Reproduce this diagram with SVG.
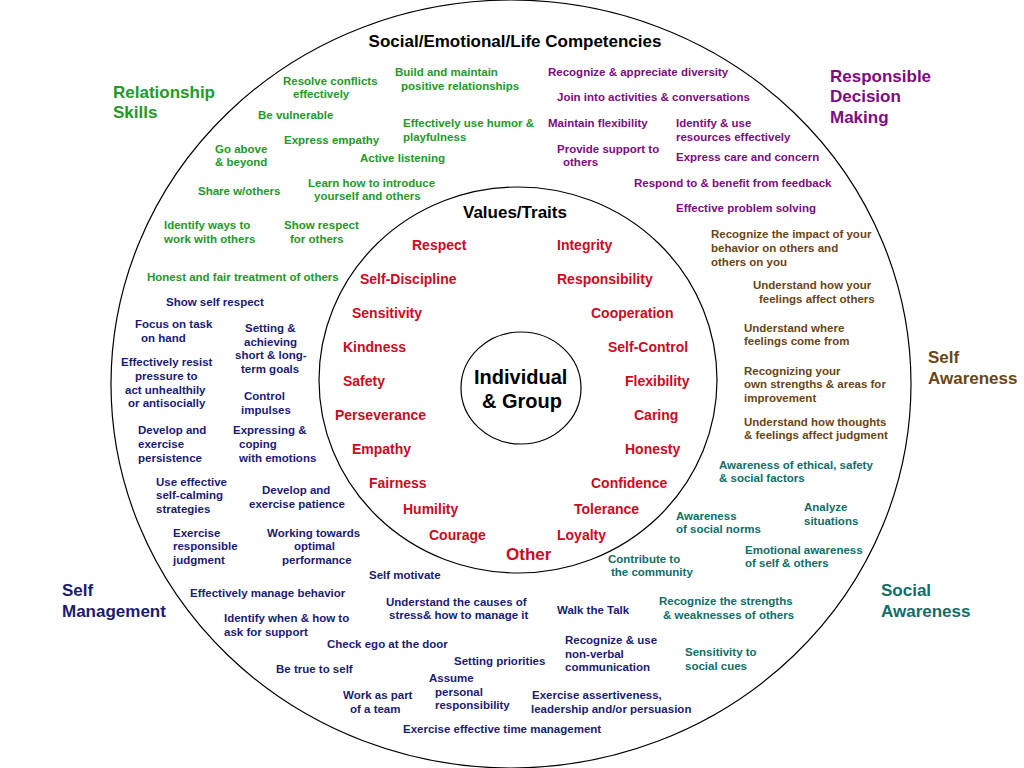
<svg xmlns="http://www.w3.org/2000/svg" width="1024" height="768" viewBox="0 0 1024 768">
<style>
text{font-family:"Liberation Sans",Arial,sans-serif;font-weight:bold}
.s{font-size:11.5px}
.m{font-size:14px}
.h{font-size:17px}
.g{fill:#23992a}
.p{fill:#800a80}
.b{fill:#6b4514}
.t{fill:#0e6e68}
.n{fill:#1b1b72}
.r{fill:#cc0a1e}
.k{fill:#000}
.ring{fill:none;stroke:#000;stroke-width:1.2}
</style>
<rect width="1024" height="768" fill="#fff"/>
<g id="rings">
<ellipse class="ring" cx="511" cy="384" rx="400" ry="384"/>
<ellipse class="ring" cx="518" cy="380" rx="199" ry="193"/>
<ellipse class="ring" cx="521" cy="388" rx="60" ry="56"/>
</g>
<g id="titles" class="k">
<text class="h" x="515" y="47" text-anchor="middle">Social/Emotional/Life Competencies</text>
<text class="h" x="463" y="218">Values/Traits</text>
<text x="474" y="384" style="font-size:20px">Individual</text>
<text x="482" y="408" style="font-size:20px">&amp; Group</text>
</g>
<g id="relationship-skills" class="g">
<text class="h" x="113" y="98">Relationship</text>
<text class="h" x="113" y="118">Skills</text>
<text class="s" x="283" y="84.5">Resolve conflicts</text>
<text class="s" x="293" y="98">effectively</text>
<text class="s" x="395" y="75.5">Build and maintain</text>
<text class="s" x="401" y="89.5">positive relationships</text>
<text class="s" x="258" y="118.5">Be vulnerable</text>
<text class="s" x="403" y="127">Effectively use humor &amp;</text>
<text class="s" x="403" y="140.5">playfulness</text>
<text class="s" x="215" y="152.5">Go above</text>
<text class="s" x="215" y="166">&amp; beyond</text>
<text class="s" x="284" y="144">Express empathy</text>
<text class="s" x="360" y="162">Active listening</text>
<text class="s" x="198" y="195">Share w/others</text>
<text class="s" x="308" y="187">Learn how to introduce</text>
<text class="s" x="314" y="200">yourself and others</text>
<text class="s" x="164" y="229">Identify ways to</text>
<text class="s" x="164" y="243">work with others</text>
<text class="s" x="284" y="229">Show respect</text>
<text class="s" x="290" y="243">for others</text>
<text class="s" x="147" y="280.5">Honest and fair treatment of others</text>
</g>
<g id="responsible-decision-making" class="p">
<text class="h" x="830" y="81.5">Responsible</text>
<text class="h" x="830" y="102">Decision</text>
<text class="h" x="830" y="122.5">Making</text>
<text class="s" x="548" y="76">Recognize &amp; appreciate diversity</text>
<text class="s" x="557" y="101">Join into activities &amp; conversations</text>
<text class="s" x="548" y="127">Maintain flexibility</text>
<text class="s" x="676" y="127">Identify &amp; use</text>
<text class="s" x="676" y="141">resources effectively</text>
<text class="s" x="557" y="153">Provide support to</text>
<text class="s" x="563" y="166">others</text>
<text class="s" x="676" y="161">Express care and concern</text>
<text class="s" x="634" y="186.5">Respond to &amp; benefit from feedback</text>
<text class="s" x="676" y="212">Effective problem solving</text>
</g>
<g id="self-awareness" class="b">
<text class="h" x="928" y="362.5">Self</text>
<text class="h" x="928" y="383.5">Awareness</text>
<text class="s" x="711" y="238">Recognize the impact of your</text>
<text class="s" x="711" y="252">behavior on others and</text>
<text class="s" x="711" y="265.5">others on you</text>
<text class="s" x="753" y="289">Understand how your</text>
<text class="s" x="759" y="303">feelings affect others</text>
<text class="s" x="744" y="332">Understand where</text>
<text class="s" x="744" y="345">feelings come from</text>
<text class="s" x="744" y="374.5">Recognizing your</text>
<text class="s" x="744" y="388">own strengths &amp; areas for</text>
<text class="s" x="744" y="401.5">improvement</text>
<text class="s" x="744" y="426">Understand how thoughts</text>
<text class="s" x="744" y="439">&amp; feelings affect judgment</text>
</g>
<g id="social-awareness" class="t">
<text class="h" x="881" y="596">Social</text>
<text class="h" x="881" y="616.5">Awareness</text>
<text class="s" x="719" y="469">Awareness of ethical, safety</text>
<text class="s" x="719" y="481.5">&amp; social factors</text>
<text class="s" x="804" y="511">Analyze</text>
<text class="s" x="804" y="524.5">situations</text>
<text class="s" x="676" y="519.5">Awareness</text>
<text class="s" x="676" y="533">of social norms</text>
<text class="s" x="745" y="554">Emotional awareness</text>
<text class="s" x="745" y="567">of self &amp; others</text>
<text class="s" x="608" y="562.5">Contribute to</text>
<text class="s" x="611" y="576">the community</text>
<text class="s" x="659" y="605">Recognize the strengths</text>
<text class="s" x="663" y="619">&amp; weaknesses of others</text>
<text class="s" x="685" y="656">Sensitivity to</text>
<text class="s" x="685" y="670">social cues</text>
</g>
<g id="self-management" class="n">
<text class="h" x="62" y="596">Self</text>
<text class="h" x="62" y="617">Management</text>
<text class="s" x="166" y="306">Show self respect</text>
<text class="s" x="135" y="328">Focus on task</text>
<text class="s" x="141" y="342">on hand</text>
<text class="s" x="245" y="332">Setting &amp;</text>
<text class="s" x="244" y="345.5">achieving</text>
<text class="s" x="235" y="359">short &amp; long-</text>
<text class="s" x="241" y="373">term goals</text>
<text class="s" x="121" y="365.5">Effectively resist</text>
<text class="s" x="135" y="380">pressure to</text>
<text class="s" x="125" y="393.5">act unhealthily</text>
<text class="s" x="128" y="407">or antisocially</text>
<text class="s" x="244" y="400">Control</text>
<text class="s" x="241" y="414">impulses</text>
<text class="s" x="138" y="434">Develop and</text>
<text class="s" x="138" y="448">exercise</text>
<text class="s" x="138" y="461.5">persistence</text>
<text class="s" x="233" y="434">Expressing &amp;</text>
<text class="s" x="239" y="448">coping</text>
<text class="s" x="239" y="461.5">with emotions</text>
<text class="s" x="156" y="486">Use effective</text>
<text class="s" x="156" y="499">self-calming</text>
<text class="s" x="156" y="513">strategies</text>
<text class="s" x="262" y="494">Develop and</text>
<text class="s" x="249" y="507.5">exercise patience</text>
<text class="s" x="173" y="536.5">Exercise</text>
<text class="s" x="173" y="550">responsible</text>
<text class="s" x="173" y="563.5">judgment</text>
<text class="s" x="267" y="536.5">Working towards</text>
<text class="s" x="294" y="550">optimal</text>
<text class="s" x="282" y="563.5">performance</text>
<text class="s" x="369" y="579">Self motivate</text>
<text class="s" x="190" y="596.5">Effectively manage behavior</text>
<text class="s" x="386" y="605.5">Understand the causes of</text>
<text class="s" x="389" y="618.5">stress&amp; how to manage it</text>
<text class="s" x="557" y="613.5">Walk the Talk</text>
<text class="s" x="224" y="622">Identify when &amp; how to</text>
<text class="s" x="224" y="636">ask for support</text>
<text class="s" x="327" y="647.5">Check ego at the door</text>
<text class="s" x="565" y="644">Recognize &amp; use</text>
<text class="s" x="565" y="658">non-verbal</text>
<text class="s" x="565" y="671">communication</text>
<text class="s" x="454" y="664.5">Setting priorities</text>
<text class="s" x="276" y="673">Be true to self</text>
<text class="s" x="429" y="682">Assume</text>
<text class="s" x="435" y="695.5">personal</text>
<text class="s" x="435" y="709">responsibility</text>
<text class="s" x="343" y="699">Work as part</text>
<text class="s" x="350" y="712.5">of a team</text>
<text class="s" x="532" y="699">Exercise assertiveness,</text>
<text class="s" x="531" y="712.5">leadership and/or persuasion</text>
<text class="s" x="403" y="733">Exercise effective time management</text>
</g>
<g id="values-traits" class="r">
<text class="m" x="412" y="249.5">Respect</text>
<text class="m" x="557" y="249.5">Integrity</text>
<text class="m" x="360" y="283.5">Self-Discipline</text>
<text class="m" x="557" y="283.5">Responsibility</text>
<text class="m" x="352" y="317.5">Sensitivity</text>
<text class="m" x="591" y="317.5">Cooperation</text>
<text class="m" x="343" y="351.5">Kindness</text>
<text class="m" x="608" y="351.5">Self-Control</text>
<text class="m" x="343" y="386">Safety</text>
<text class="m" x="625" y="386">Flexibility</text>
<text class="m" x="335" y="420">Perseverance</text>
<text class="m" x="634" y="420">Caring</text>
<text class="m" x="352" y="454">Empathy</text>
<text class="m" x="625" y="454">Honesty</text>
<text class="m" x="369" y="488">Fairness</text>
<text class="m" x="591" y="488">Confidence</text>
<text class="m" x="403" y="514">Humility</text>
<text class="m" x="574" y="514">Tolerance</text>
<text class="m" x="429" y="539.5">Courage</text>
<text class="m" x="557" y="539.5">Loyalty</text>
<text class="h" x="506" y="559.5">Other</text>
</g>
</svg>
